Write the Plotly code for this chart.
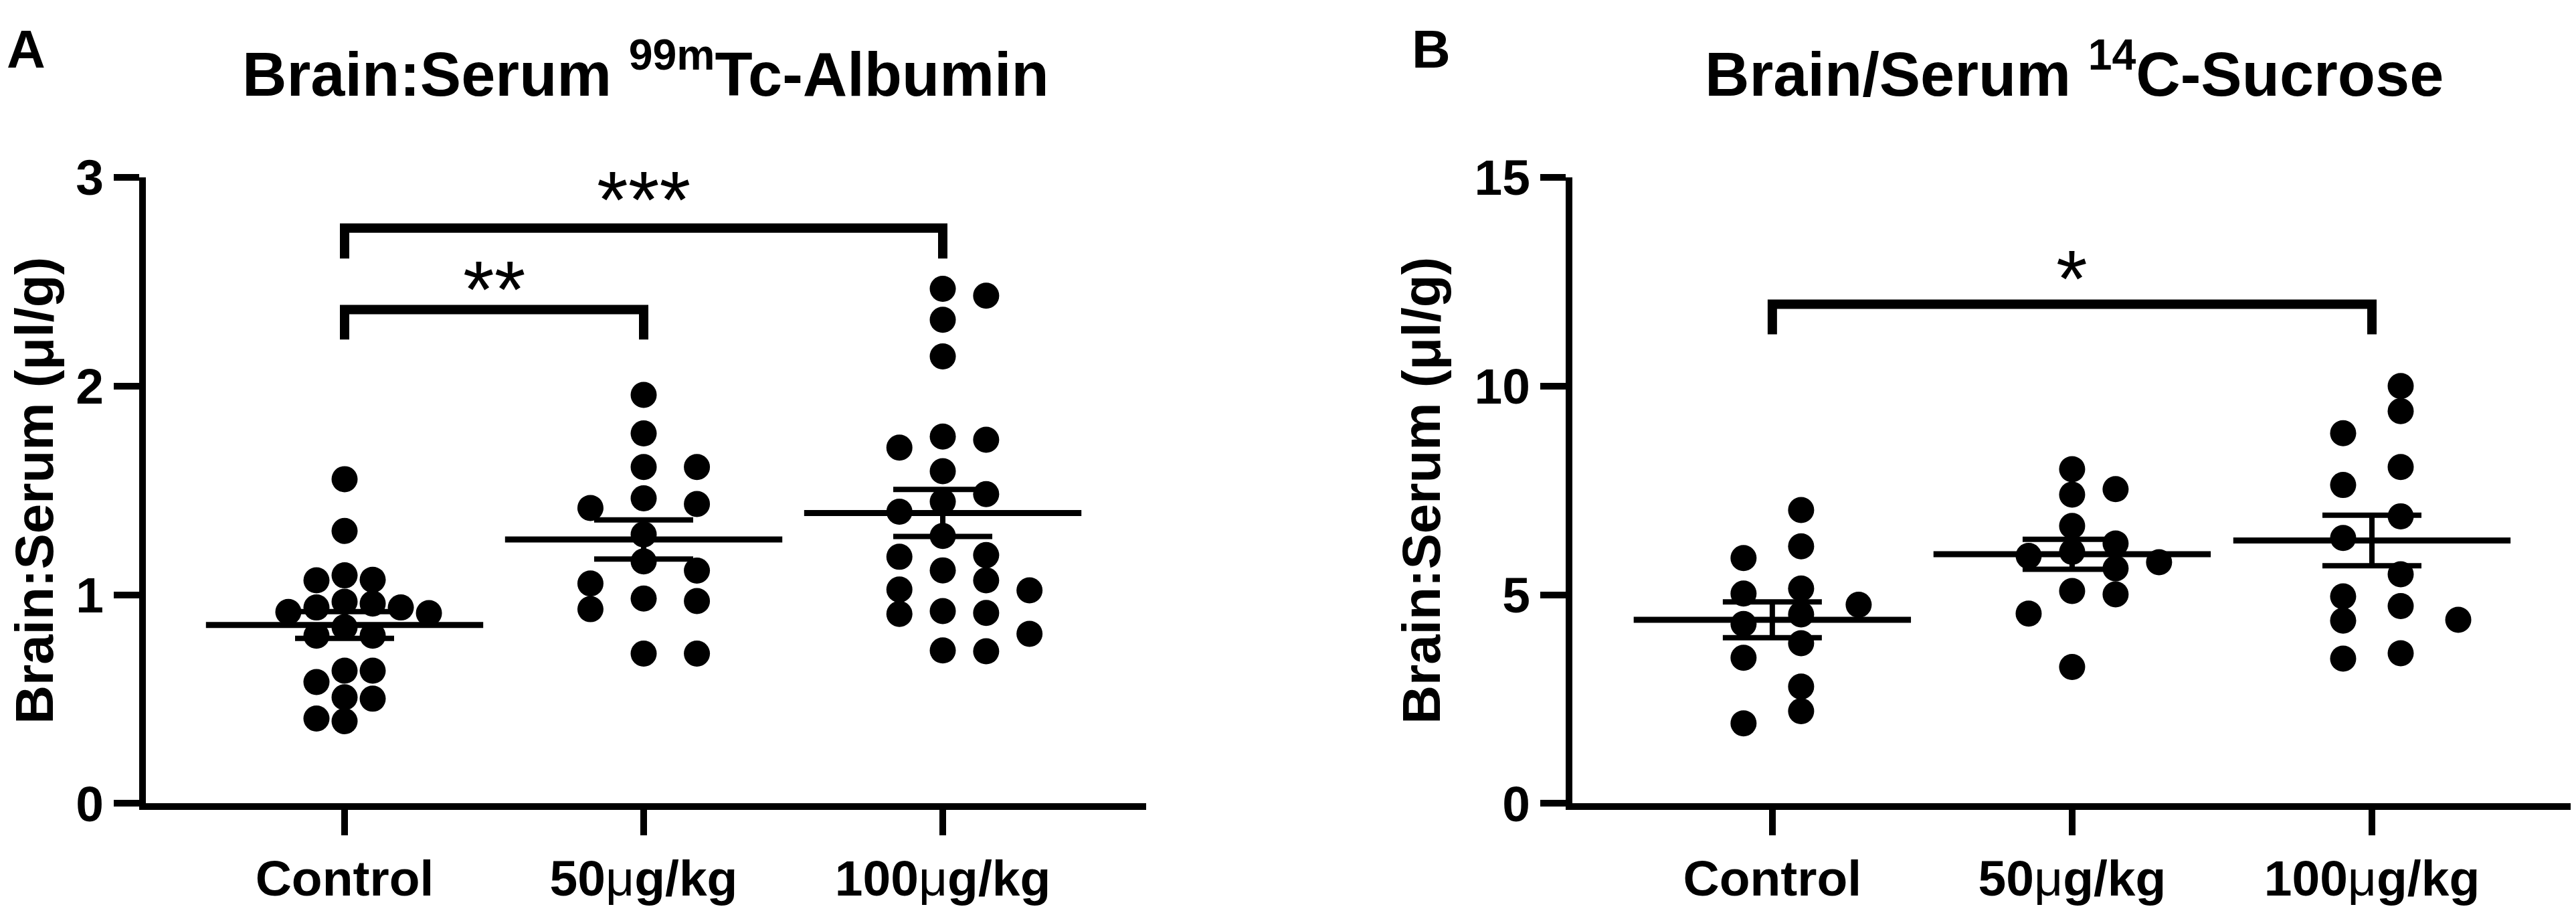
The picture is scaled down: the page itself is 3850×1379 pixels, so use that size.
import numpy as np
import plotly.graph_objects as go

# groups on the x axis of both panels
groups = ['Control', '50μg/kg', '100μg/kg']
tick_text = ['Control',
             '50<span style="font-weight:normal">μ</span>g/kg',
             '100<span style="font-weight:normal">μ</span>g/kg']

# panel A: brain:serum 99mTc-albumin (µl/g)
alb_control = [1.554, 1.306, 1.093, 1.072, 1.069, 0.958, 0.912, 0.939, 0.967, 0.939,
               0.918, 0.845, 0.804, 0.804, 0.636, 0.636, 0.582, 0.502, 0.509, 0.407, 0.394]
alb_50 = [1.958, 1.773, 1.612, 1.612, 1.435, 1.462, 1.416, 1.289, 1.160, 1.116,
          1.054, 0.982, 0.970, 0.931, 0.718, 0.718]
alb_100 = [2.466, 2.433, 2.318, 2.142, 1.758, 1.743, 1.705, 1.592, 1.482, 1.446,
           1.398, 1.282, 1.182, 1.190, 1.117, 1.069, 1.021, 1.025, 0.908, 0.913,
           0.922, 0.813, 0.729, 0.733]
alb_mean = [0.855, 1.265, 1.392]
alb_sem = [0.064, 0.094, 0.113]

# panel B: brain/serum 14C-sucrose (µl/g)
suc_control = [7.03, 6.16, 5.88, 5.15, 5.03, 4.76, 4.53, 4.30, 3.84, 3.49, 2.80, 2.21, 1.92]
suc_50 = [8.01, 7.53, 7.40, 6.65, 6.23, 6.03, 5.93, 5.78, 5.63, 5.01, 5.09, 4.55, 3.27]
suc_100 = [10.0, 9.40, 8.87, 8.06, 7.63, 6.88, 6.36, 5.49, 4.96, 4.73, 4.38, 4.40, 3.47, 3.60]
suc_mean = [4.40, 5.97, 6.30]
suc_sem = [0.43, 0.36, 0.605]

# significance brackets: (from group, to group, label)
alb_sig = [(0, 1, '**'), (0, 2, '***')]
suc_sig = [(0, 2, '*')]

W, H = 3850, 1379
FONT = 'Liberation Sans'
DOT = 39          # px
PLOT_H = 996      # px height of each plot area


def swarm(values, step, half, dot_units):
    # column beeswarm: put each dot in the nearest free column
    if half:
        cand = [0.5, -0.5, 1.5, -1.5, 2.5, -2.5, 3.5, -3.5]
    else:
        cand = [0, 1, -1, 2, -2, 3, -3, 4, -4]
    placed = []
    offs = np.zeros(len(values))
    for i in np.argsort(values)[::-1]:
        v = values[i]
        for c in cand:
            if all(abs(v - pv) >= dot_units for pc, pv in placed if pc == c):
                break
        placed.append((c, v))
        offs[i] = c * step
    return offs


fig = go.Figure()

panels = [
    dict(x='x', y='y', data=[alb_control, alb_50, alb_100], mean=alb_mean, sem=alb_sem,
         ymax=3, swarm=[(0.094, False), (0.178, False), (0.145, False)]),
    dict(x='x2', y='y2', data=[suc_control, suc_50, suc_100], mean=suc_mean, sem=suc_sem,
         ymax=15, swarm=[(0.192, True), (0.145, False), (0.192, True)]),
]

for p in panels:
    du = DOT * p['ymax'] / PLOT_H * 0.97
    for gi, vals in enumerate(p['data']):
        step, half = p['swarm'][gi]
        offs = swarm(np.array(vals), step, half, du)
        fig.add_trace(go.Scatter(
            x=gi + offs, y=vals, mode='markers', xaxis=p['x'], yaxis=p['y'],
            marker=dict(size=DOT, color='black', line=dict(width=0)),
            showlegend=False, hoverinfo='y', cliponaxis=False
        ))
    # mean line with SEM error bars
    fig.add_trace(go.Scatter(
        x=[0, 1, 2], y=p['mean'], mode='markers', xaxis=p['x'], yaxis=p['y'],
        marker=dict(symbol='line-ew', size=296, color='black',
                    line=dict(width=9, color='black')),
        error_y=dict(type='data', array=p['sem'], width=74, thickness=8, color='black'),
        showlegend=False, hoverinfo='y', cliponaxis=False
    ))

axis_common = dict(showline=True, linewidth=10, linecolor='black', ticks='outside',
                   ticklen=38, tickwidth=10, tickcolor='black', showgrid=False,
                   zeroline=False, tickfont=dict(family=FONT, size=75, color='black', weight='bold'))

ydom = [1 - 1225 / H, 1 - 229 / H]
layout = dict(
    width=W, height=H, plot_bgcolor='white', paper_bgcolor='white',
    margin=dict(l=0, r=0, t=0, b=0),
    xaxis=dict(domain=[210 / W, 1705 / W], range=[-0.6644, 2.680], tickvals=[0, 1, 2],
               ticktext=tick_text, anchor='y', **axis_common),
    yaxis=dict(domain=ydom, range=[0, 3], tickvals=[0, 1, 2, 3], anchor='x', **axis_common),
    xaxis2=dict(domain=[2342 / W, 3843 / W], range=[-0.667, 2.683], tickvals=[0, 1, 2],
                ticktext=tick_text, anchor='y2', **axis_common),
    yaxis2=dict(domain=ydom, range=[0, 15], tickvals=[0, 5, 10, 15], anchor='x2', **axis_common),
)
fig.update_layout(**layout)

bold = dict(family=FONT, color='black', weight='bold')
ann = [
    dict(text='A', x=0, y=1.018, xanchor='left', yanchor='top', font=dict(size=80, **bold)),
    dict(text='B', x=2100 / W, y=1.018, xanchor='left', yanchor='top', font=dict(size=80, **bold)),
    dict(text='Brain:Serum <sup>99m</sup>Tc-Albumin', x=957 / W, y=1 - 58 / H,
         xanchor='center', yanchor='middle', font=dict(size=92, **bold)),
    dict(text='Brain/Serum <sup>14</sup>C-Sucrose', x=3092 / W, y=1 - 58 / H,
         xanchor='center', yanchor='middle', font=dict(size=92, **bold)),
    dict(text='Brain:Serum (μl/g)', x=44 / W, y=1 - 727 / H, textangle=-90,
         xanchor='center', yanchor='middle', font=dict(size=80, **bold)),
    dict(text='Brain:Serum (μl/g)', x=2117 / W, y=1 - 727 / H, textangle=-90,
         xanchor='center', yanchor='middle', font=dict(size=80, **bold)),
]
for a in ann:
    a.update(xref='paper', yref='paper', showarrow=False)

shapes = []
# bracket heights in data units: (top of bracket, bottom of legs, label centre)
brackets = [
    ('x', 'y', alb_sig, [(2.367, 2.223, 2.465), (2.757, 2.611, 2.895)]),
    ('x2', 'y2', suc_sig, [(11.96, 11.24, 12.58)]),
]
for xr, yr, sig, lev in brackets:
    for (g0, g1, lab), (top, low, ty) in zip(sig, lev):
        shapes.append(dict(type='path', xref=xr, yref=yr,
                           path=f'M {g0},{low} L {g0},{top} L {g1},{top} L {g1},{low}',
                           line=dict(color='black', width=14)))
        ann.append(dict(text=lab, x=(g0 + g1) / 2, y=ty, xref=xr, yref=yr, showarrow=False,
                        xanchor='center', yanchor='middle',
                        font=dict(family=FONT, size=120, color='black')))

fig.update_layout(annotations=ann, shapes=shapes)
fig.write_html('out.html')
